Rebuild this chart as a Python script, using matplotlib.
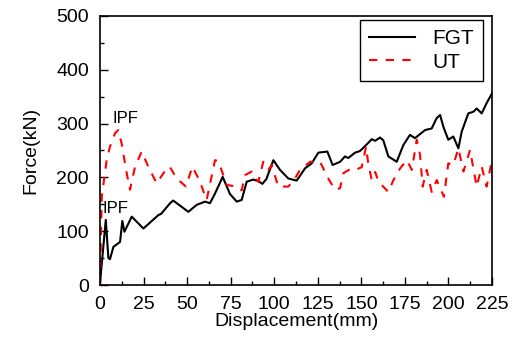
import numpy as np
import matplotlib.pyplot as plt
from matplotlib.ticker import MultipleLocator

plt.rcParams['font.family'] = ['Liberation Sans', 'DejaVu Sans']
plt.rcParams['font.size'] = 14

# FGT curve (displacement mm, force kN)
fgt_x = [0, 3.3, 4.8, 5.7, 7.7, 11.5, 12.8, 14, 18.2, 24.9, 33.5, 35, 40.2, 42, 50.7,
         55.5, 60.3, 63.1, 66, 70.4, 74.6, 78.5, 81.3, 84.2, 88, 90.9, 93.2, 95.5, 99.5,
         103.3, 108.1, 112.9, 117.7, 121.5, 125.3, 130.5, 133.5, 137.8, 140.6, 142.5,
         146.4, 149.2, 152.7, 156, 157.9, 160.7, 162.6, 165.5, 170.3, 174.1, 177.9,
         180.8, 186.6, 190.4, 193.2, 195.2, 197.1, 199.9, 202.8, 205.7, 207.6, 211.4,
         214.3, 216.2, 219.1, 221.9, 225]
fgt_y = [4, 121, 50, 48, 71, 80, 119, 99, 127, 105, 130, 132, 152, 157, 136,
         149, 155, 152, 170, 201, 169, 155, 158, 192, 196, 193, 188, 197, 232,
         214, 198, 194, 217, 226, 246, 248, 223, 229, 239, 236,
         246, 249, 260, 271, 268, 274, 269, 239, 229, 260, 279,
         273, 288, 291, 310, 316, 294, 270, 276, 254, 285, 319,
         322, 328, 319, 338, 356]

# UT curve
ut_x = [0, 1, 3.8, 5.7, 8.6, 10.5, 12.4, 15.3, 17.2, 20.1, 23.9, 27.7, 32.5, 38.3,
        40, 44, 49.3, 53, 57, 61.2, 66, 68, 72.7, 78.5, 81.3, 83.2, 87.1, 89, 90.9,
        93.7, 96.6, 98.5, 102.3, 108.1, 111.9, 114.8, 120.6, 126.3, 131, 134.9, 137.8,
        139.7, 144.5, 147.3, 150.2, 152.7, 154, 156, 158, 159.8, 165.5, 168.4, 172.3,
        176.1, 179, 181.8, 183.7, 185.2, 187.5, 190.4, 193.3, 197.4, 199.9, 202.8,
        205.7, 208.6, 212.4, 214.3, 216.2, 219.1, 221.9, 225]
ut_y = [0, 164, 232, 257, 282, 288, 263, 208, 177, 220, 248, 220, 189, 217,
        220, 198, 183, 220, 195, 158, 232, 230, 186, 183, 176, 204, 211, 199, 192,
        229, 214, 223, 183, 183, 198, 214, 229, 229, 198, 177, 180,
        208, 217, 215, 219, 257, 225, 195, 210, 192, 173, 195, 217,
        232, 214, 270, 242, 183, 214, 173, 195, 164, 226, 223,
        254, 211, 251, 217, 183, 220, 183, 232]

fig = plt.figure(figsize=(5.14, 3.6), dpi=100)
ax = fig.add_axes([0.1946, 0.2083, 0.7626, 0.7473])
ax.plot(fgt_x, fgt_y, color='black', lw=1.5, label='FGT')
ax.plot(ut_x, ut_y, color='red', lw=1.5, ls=(0, (4, 4)), label='UT')

ax.text(7, 310, 'IPF', fontsize=12, va='center', ha='left')
ax.text(1.5, 143, 'IPF', fontsize=12, va='center', ha='left')

ax.set_xlim(0, 225)
ax.set_ylim(0, 500)
ax.xaxis.set_major_locator(MultipleLocator(25))
ax.xaxis.set_minor_locator(MultipleLocator(12.5))
ax.yaxis.set_major_locator(MultipleLocator(100))
ax.yaxis.set_minor_locator(MultipleLocator(50))
ax.tick_params(which='both', direction='in', top=False, right=False, width=1, pad=8)
ax.tick_params(which='major', length=5.5)
ax.tick_params(which='minor', length=3)
for s in ax.spines.values():
    s.set_linewidth(1.2)

ax.set_xlabel('Displacement(mm)', labelpad=0)
ax.set_ylabel('Force(kN)', labelpad=12)
leg = ax.legend(loc='upper right', bbox_to_anchor=(0.977, 0.985), fancybox=False,
                edgecolor='black', framealpha=1, handlelength=2.2, borderaxespad=0,
                borderpad=0.45, labelspacing=0.2, fontsize=15)
leg.get_frame().set_linewidth(1)

plt.savefig('out.png', dpi=100)
